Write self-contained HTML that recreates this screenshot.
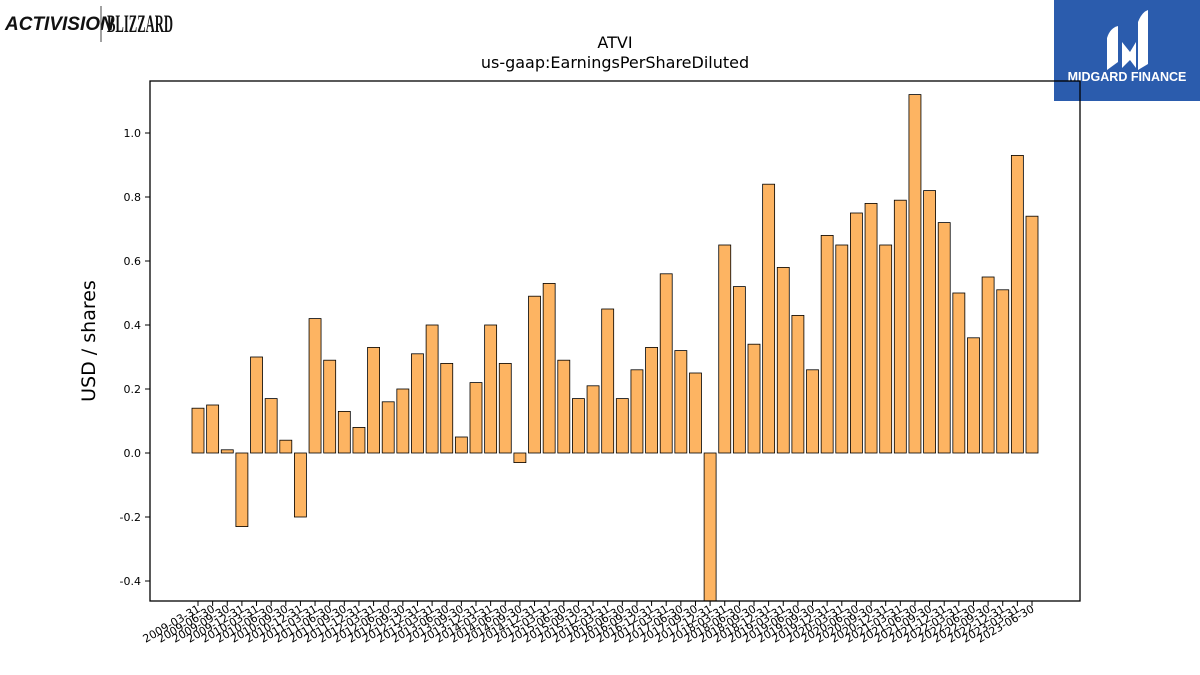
<!DOCTYPE html>
<html><head><meta charset="utf-8"><style>
body{margin:0;background:#fff;width:1200px;height:675px;overflow:hidden;font-family:"DejaVu Sans","Liberation Sans",sans-serif}
</style></head><body>
<svg id="chart" width="1200" height="675" xmlns="http://www.w3.org/2000/svg" style="position:absolute;left:0;top:0">
<g>
<text x="5" y="30" font-family="Liberation Sans,sans-serif" font-weight="bold" font-style="italic" font-size="19" fill="#111">ACTIVISION</text>
<line x1="101" y1="6" x2="101" y2="42" stroke="#444" stroke-width="1"/>
<text x="107" y="32" font-family="Liberation Serif,serif" font-weight="bold" font-size="25" fill="#111" textLength="66" lengthAdjust="spacingAndGlyphs">BLIZZARD</text>
</g>
<g>
<rect x="1054" y="0" width="146" height="101" fill="#2b5cad"/>
<path d="M1107 70 L1107 38 Q1110 28 1118 26 L1118 62 Z" fill="#fff"/>
<path d="M1122 68 L1122 42 L1130 52 L1136 42 L1136 68 L1130 60 Z" fill="#fff"/>
<path d="M1138 70 L1138 22 Q1142 12 1148 10 L1148 64 Z" fill="#fff"/>
<text x="1127" y="81" text-anchor="middle" font-family="Liberation Sans,sans-serif" font-weight="bold" font-size="12.5" fill="#fff">MIDGARD FINANCE</text>
</g>
<text x="615" y="48" text-anchor="middle" font-size="16">ATVI</text>
<text x="615" y="68" text-anchor="middle" font-size="16">us-gaap:EarningsPerShareDiluted</text>
<text transform="translate(95,341) rotate(-90)" text-anchor="middle" font-size="19">USD / shares</text>
<defs><clipPath id="pc"><rect x="150" y="81" width="930" height="520"/></clipPath></defs>
<g id="bars" clip-path="url(#pc)"></g>
<g id="axes"></g>
<rect x="150" y="81" width="930" height="520" fill="none" stroke="#000" stroke-width="1.3"/>
</svg>
<script>
const categories=["2009-03-31","2009-06-30","2009-09-30","2009-12-31","2010-03-31","2010-06-30","2010-09-30","2010-12-31","2011-03-31","2011-06-30","2011-09-30","2011-12-31","2012-03-31","2012-06-30","2012-09-30","2012-12-31","2013-03-31","2013-06-30","2013-09-30","2013-12-31","2014-03-31","2014-06-30","2014-09-30","2014-12-31","2015-03-31","2015-06-30","2015-09-30","2015-12-31","2016-03-31","2016-06-30","2016-09-30","2016-12-31","2017-03-31","2017-06-30","2017-09-30","2017-12-31","2018-03-31","2018-06-30","2018-09-30","2018-12-31","2019-03-31","2019-06-30","2019-09-30","2019-12-31","2020-03-31","2020-06-30","2020-09-30","2020-12-31","2021-03-31","2021-06-30","2021-09-30","2021-12-31","2022-03-31","2022-06-30","2022-09-30","2022-12-31","2023-03-31","2023-06-30"];
const values=[0.14,0.15,0.01,-0.23,0.30,0.17,0.04,-0.20,0.42,0.29,0.13,0.08,0.33,0.16,0.20,0.31,0.40,0.28,0.05,0.22,0.40,0.28,-0.03,0.49,0.53,0.29,0.17,0.21,0.45,0.17,0.26,0.33,0.56,0.32,0.25,-0.65,0.65,0.52,0.34,0.84,0.58,0.43,0.26,0.68,0.65,0.75,0.78,0.65,0.79,1.12,0.82,0.72,0.50,0.36,0.55,0.51,0.93,0.74];
const yTicks=[-0.4,-0.2,0.0,0.2,0.4,0.6,0.8,1.0];
const NS="http://www.w3.org/2000/svg";
const yScale=v=>453-v*320;
const xScale=i=>198+i*(834/(categories.length-1));
const bars=document.getElementById('bars'),axes=document.getElementById('axes');
function mk(t,a,p){const e=document.createElementNS(NS,t);for(const k in a)e.setAttribute(k,a[k]);p.appendChild(e);return e;}
values.forEach((v,i)=>{
 const y0=yScale(0),y1=yScale(v);
 const r=mk('rect',{x:xScale(i)-6,y:Math.min(y0,y1),width:12,height:Math.abs(y1-y0),fill:'#fdb462',stroke:'#000','stroke-width':0.8},bars);
 
 
});
yTicks.forEach(t=>{
 const y=yScale(t);
 const l=mk('line',{x1:145,x2:150,y1:y,y2:y,stroke:'#000'},axes);
 
 
 const tx=mk('text',{x:141,y:y+4,'text-anchor':'end','font-size':11},axes);
 tx.textContent=t.toFixed(1);
 
 
});
categories.forEach((c,i)=>{
 const x=xScale(i);
 const l=mk('line',{x1:x,x2:x,y1:601,y2:606,stroke:'#000'},axes);
 
 
 const tx=mk('text',{transform:`translate(${x+3},${611}) rotate(-30)`,'text-anchor':'end','font-size':11},axes);
 tx.textContent=c;
 
 
});
</script>
</body></html>
